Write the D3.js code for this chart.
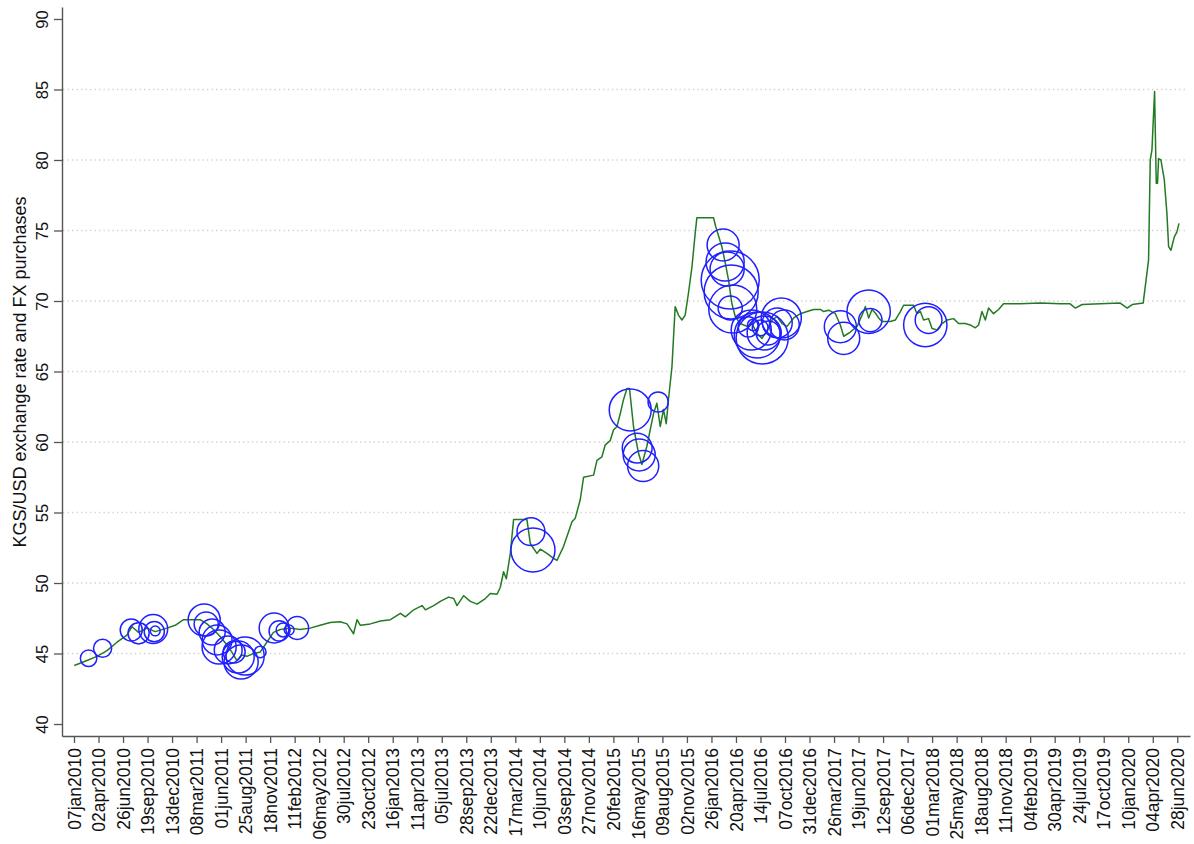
<!DOCTYPE html>
<html>
<head>
<meta charset="utf-8">
<script src="https://cdn.jsdelivr.net/npm/d3@7"></script>
<style>
  body { margin: 0; background: #fff; }
  svg { font-family: "Liberation Sans", Arial, sans-serif; }
</style>
</head>
<body>
<div id="chart"></div>
<script>
// exchange rate, dates as decimal years
const rateYears = [2010.019, 2010.140, 2010.235, 2010.330, 2010.425, 2010.519, 2010.567, 2010.630, 2010.709, 2010.788,
  2010.899, 2010.978, 2011.057, 2011.152, 2011.215, 2011.279, 2011.342, 2011.405, 2011.469, 2011.516,
  2011.564, 2011.611, 2011.659, 2011.721, 2011.785, 2011.848, 2011.911, 2011.975, 2012.070, 2012.164,
  2012.259, 2012.354, 2012.449, 2012.544, 2012.608, 2012.670, 2012.703, 2012.734, 2012.829, 2012.924,
  2013.019, 2013.114, 2013.161, 2013.240, 2013.320, 2013.351, 2013.430, 2013.493, 2013.572, 2013.620,
  2013.652, 2013.715, 2013.778, 2013.842, 2013.921, 2013.968, 2014.032, 2014.063, 2014.094, 2014.120,
  2014.158, 2014.189, 2014.316, 2014.348, 2014.379, 2014.411, 2014.443, 2014.506, 2014.569, 2014.601,
  2014.664, 2014.696, 2014.744, 2014.775, 2014.822, 2014.854, 2014.949, 2014.981, 2015.028, 2015.060,
  2015.107, 2015.138, 2015.171, 2015.202, 2015.233, 2015.266, 2015.290, 2015.328, 2015.376, 2015.408,
  2015.455, 2015.518, 2015.550, 2015.582, 2015.613, 2015.639, 2015.660, 2015.693, 2015.724, 2015.755,
  2015.788, 2015.819, 2015.850, 2015.883, 2015.914, 2015.930, 2016.088, 2016.108, 2016.167, 2016.199,
  2016.230, 2016.262, 2016.294, 2016.341, 2016.405, 2016.452, 2016.500, 2016.547, 2016.594, 2016.642,
  2016.689, 2016.737, 2016.784, 2016.847, 2016.911, 2016.974, 2017.037, 2017.100, 2017.132, 2017.179,
  2017.243, 2017.290, 2017.322, 2017.385, 2017.449, 2017.496, 2017.528, 2017.559, 2017.591, 2017.622,
  2017.654, 2017.686, 2017.765, 2017.812, 2017.860, 2017.891, 2017.986, 2018.018, 2018.050, 2018.081,
  2018.128, 2018.161, 2018.208, 2018.256, 2018.303, 2018.366, 2018.413, 2018.477, 2018.524, 2018.572,
  2018.603, 2018.635, 2018.667, 2018.698, 2018.745, 2018.793, 2018.840, 2018.999, 2019.189, 2019.379,
  2019.473, 2019.521, 2019.587, 2019.758, 2019.948, 2020.015, 2020.062, 2020.166, 2020.217, 2020.233,
  2020.249, 2020.274, 2020.290, 2020.302, 2020.312, 2020.334, 2020.366, 2020.391, 2020.407, 2020.429,
  2020.461, 2020.486, 2020.505];
const rateValues = [44.15, 44.5, 44.8, 45.2, 45.8, 46.3, 46.9, 46.5, 46.8, 46.55,
  46.8, 47.0, 47.4, 47.4, 47.4, 47.1, 46.7, 46.2, 45.6, 45.1,
  44.5, 44.9, 44.8, 45.0, 45.1, 45.8, 46.5, 46.7, 46.8, 46.7,
  46.8, 47.0, 47.2, 47.25, 47.1, 46.4, 47.4, 47.0, 47.1, 47.3,
  47.4, 47.85, 47.6, 48.1, 48.4, 48.1, 48.4, 48.7, 49.0, 48.9,
  48.4, 49.1, 48.7, 48.5, 48.9, 49.25, 49.2, 49.7, 50.8, 50.3,
  52.1, 54.5, 54.5, 52.8, 52.45, 52.1, 52.4, 52.1, 51.75, 51.6,
  52.6, 53.3, 54.35, 54.6, 55.9, 57.5, 57.65, 58.7, 58.95, 59.8,
  60.1, 60.85, 61.1, 62.0, 63.0, 63.8, 63.8, 61.1, 59.2, 58.4,
  59.7, 62.0, 62.75, 61.1, 62.3, 61.3, 63.0, 65.3, 69.6, 69.0,
  68.65, 69.0, 70.55, 72.4, 74.8, 75.9, 75.9, 75.3, 73.85, 72.7,
  71.5, 69.8, 68.9, 68.4, 68.2, 68.4, 67.7, 67.35, 67.9, 68.65,
  68.9, 68.4, 68.2, 68.8, 69.1, 69.25, 69.4, 69.4, 69.25, 69.35,
  69.1, 68.3, 67.5, 67.8, 68.2, 69.0, 69.6, 68.8, 69.4, 69.15,
  68.8, 68.55, 68.55, 68.65, 69.25, 69.7, 69.7, 69.1, 69.25, 68.65,
  68.75, 68.05, 67.95, 68.4, 68.65, 68.75, 68.4, 68.4, 68.3, 68.1,
  68.3, 69.25, 68.65, 69.5, 69.1, 69.4, 69.8, 69.8, 69.85, 69.8,
  69.8, 69.5, 69.75, 69.8, 69.85, 69.5, 69.75, 69.85, 72.9, 80.0,
  80.7, 84.85, 78.35, 78.35, 80.1, 80.0, 78.6, 76.2, 73.85, 73.6,
  74.55, 74.9, 75.5];

// FX purchases: date, rate on that date, amount (circle area)
const buyYears = [2010.155, 2010.288, 2010.560, 2010.630, 2010.769, 2010.779, 2010.788,
  2011.253, 2011.272, 2011.329, 2011.376, 2011.395, 2011.481, 2011.538, 2011.576, 2011.604, 2011.642, 2011.785,
  2011.917, 2011.965, 2012.003, 2012.060, 2012.136,
  2014.354, 2014.373,
  2015.297, 2015.363, 2015.382, 2015.420, 2015.562,
  2016.179, 2016.198, 2016.217, 2016.246, 2016.255, 2016.270, 2016.246,
  2016.417, 2016.445, 2016.464, 2016.502, 2016.530, 2016.549, 2016.568, 2016.606, 2016.692, 2016.730, 2016.759,
  2017.290, 2017.322, 2017.559, 2017.575,
  2018.097, 2018.128];
const buyRates = [44.66, 45.37, 46.67, 46.43, 46.74, 46.55, 46.6,
  47.38, 47.09, 46.52, 45.96, 45.46, 45.25, 45.11, 44.75, 44.40, 44.82, 45.11,
  46.81, 46.60, 46.67, 46.67, 46.81,
  53.64, 52.34,
  62.27, 59.57, 59.08, 58.30, 62.84,
  73.97, 72.77, 72.27, 71.49, 70.64, 69.43, 69.50,
  68.16, 67.94, 68.30, 67.59, 68.09, 67.38, 67.73, 67.73, 68.44, 68.79, 68.30,
  68.18, 67.35, 69.24, 68.65,
  68.30, 68.65];
const buyAmounts = [14, 17, 25, 23, 43, 21, 5,
  53, 30, 35, 46, 60, 40, 25, 53, 60, 75, 7,
  46, 21, 10, 5, 27,
  40, 100,
  91, 46, 53, 50, 21,
  53, 75, 60, 174, 151, 119, 30,
  21, 83, 7, 109, 13, 140, 60, 30, 46, 83, 46,
  53, 53, 97, 28,
  97, 37];

const tickLabels = ['07jan2010', '02apr2010', '26jun2010', '19sep2010', '13dec2010', '08mar2011', '01jun2011',
  '25aug2011', '18nov2011', '11feb2012', '06may2012', '30jul2012', '23oct2012', '16jan2013', '11apr2013',
  '05jul2013', '28sep2013', '22dec2013', '17mar2014', '10jun2014', '03sep2014', '27nov2014', '20feb2015',
  '16may2015', '09aug2015', '02nov2015', '26jan2016', '20apr2016', '14jul2016', '07oct2016', '31dec2016',
  '26mar2017', '19jun2017', '12sep2017', '06dec2017', '01mar2018', '25may2018', '18aug2018', '11nov2018',
  '04feb2019', '30apr2019', '24jul2019', '17oct2019', '10jan2020', '04apr2020', '28jun2020'];
const yTicks = [40, 45, 50, 55, 60, 65, 70, 75, 80, 85, 90];
const gridTicks = [45, 50, 55, 60, 65, 70, 75, 80, 85];

const width = 1194;
const height = 844;
const DAY = 864e5;

function fromYear(yr) {
  const y = Math.floor(yr);
  const a = Date.UTC(y, 0, 1), b = Date.UTC(y + 1, 0, 1);
  return new Date(a + (yr - y) * (b - a));
}

const parse = d3.utcParse('%d%b%Y');
const tickDates = tickLabels.map(parse);

const rate = rateYears.map((t, i) => ({ date: fromYear(t), v: rateValues[i] }));
const buys = buyYears.map((t, i) => ({ date: fromYear(t), v: buyRates[i], amt: buyAmounts[i] }));

const svg = d3.select('#chart')
  .append('svg')
  .attr('width', width)
  .attr('height', height);

const t0 = tickDates[0].getTime();
const x = d3.scaleUtc()
  .domain([new Date(t0 - 41.6 * DAY), new Date(t0 + 3869.1 * DAY)])
  .range([62, 1190]);

const y = d3.scaleLinear()
  .domain([39.15, 90.85])
  .range([736, 7]);

const r = d3.scaleSqrt().domain([0, 100]).range([0, 22]);

// dotted grid
svg.append('g')
  .selectAll('line')
  .data(gridTicks)
  .join('line')
    .attr('x1', 63)
    .attr('x2', 1187)
    .attr('y1', d => y(d))
    .attr('y2', d => y(d))
    .attr('stroke', '#cfcfcf')
    .attr('stroke-width', 1.3)
    .attr('stroke-dasharray', '1.3,3.2');

// y axis
const yAxis = svg.append('g')
  .attr('transform', 'translate(62,0)')
  .call(d3.axisLeft(y).tickValues(yTicks).tickSize(8).tickSizeOuter(0));
yAxis.select('.domain').attr('stroke', '#555').attr('stroke-width', 1.4);
yAxis.selectAll('.tick line').attr('stroke', '#555').attr('stroke-width', 1.3);
yAxis.selectAll('.tick text')
  .attr('font-size', '16.5px')
  .attr('fill', '#111')
  .attr('transform', 'rotate(-90)')
  .attr('text-anchor', 'middle')
  .attr('x', 0)
  .attr('y', -14)
  .attr('dy', 0);

// x axis
const xAxis = svg.append('g')
  .attr('transform', 'translate(0,736)')
  .call(d3.axisBottom(x).tickValues(tickDates).tickSize(7).tickSizeOuter(0)
    .tickFormat((d, i) => tickLabels[i]));
xAxis.select('.domain').attr('stroke', '#555').attr('stroke-width', 1.4);
xAxis.selectAll('.tick line').attr('stroke', '#555').attr('stroke-width', 1.3);
xAxis.selectAll('.tick text')
  .attr('font-size', '17.5px')
  .attr('fill', '#111')
  .attr('transform', 'rotate(-90)')
  .attr('text-anchor', 'end')
  .attr('x', -12)
  .attr('y', 0)
  .attr('dy', '0.35em');

// y title
svg.append('text')
  .attr('transform', 'translate(26,372) rotate(-90)')
  .attr('text-anchor', 'middle')
  .attr('font-size', '18px')
  .attr('fill', '#111')
  .text('KGS/USD exchange rate and FX purchases');

// exchange rate line
svg.append('path')
  .datum(rate)
  .attr('fill', 'none')
  .attr('stroke', '#237a23')
  .attr('stroke-width', 1.5)
  .attr('stroke-linejoin', 'round')
  .attr('d', d3.line().x(d => x(d.date)).y(d => y(d.v)));

// purchases
svg.append('g')
  .selectAll('circle')
  .data(buys)
  .join('circle')
    .attr('cx', d => x(d.date))
    .attr('cy', d => y(d.v))
    .attr('r', d => r(d.amt))
    .attr('fill', 'none')
    .attr('stroke', '#2020ff')
    .attr('stroke-width', 1.5);
</script>
</body>
</html>
